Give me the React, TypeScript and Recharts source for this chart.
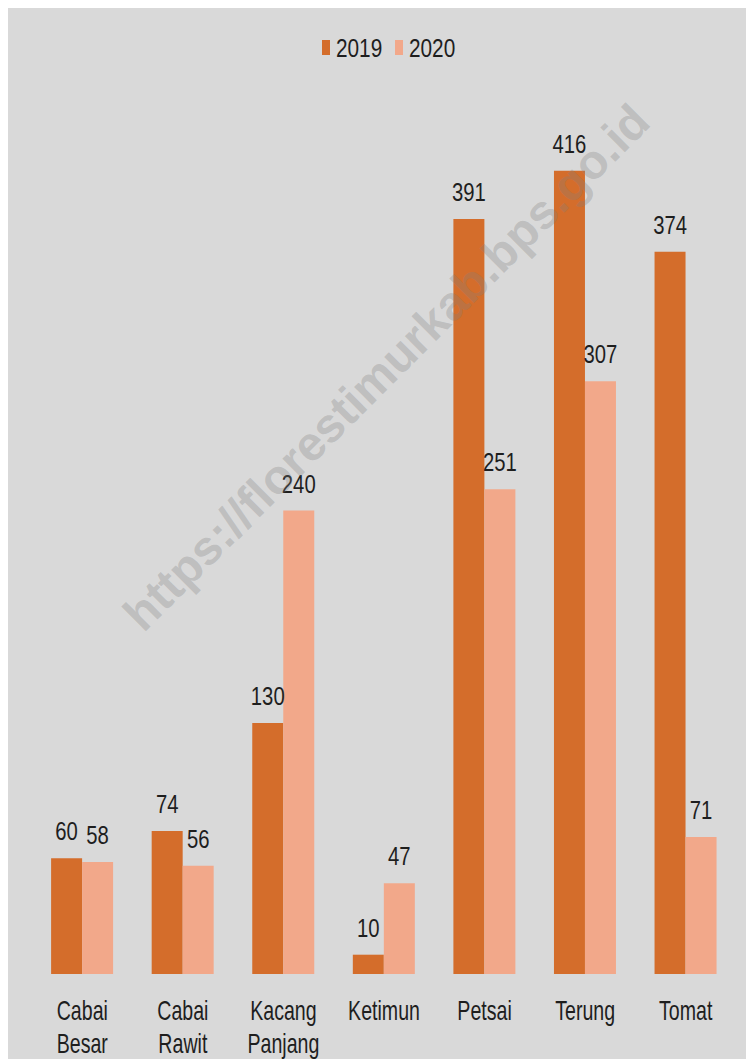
import React from 'react';
import { BarChart, Bar, XAxis, YAxis, Legend, LabelList } from 'recharts';

const categories = ['Cabai Besar', 'Cabai Rawit', 'Kacang Panjang', 'Ketimun', 'Petsai', 'Terung', 'Tomat'];
const values2019 = [60, 74, 130, 10, 391, 416, 374];
const values2020 = [58, 56, 240, 47, 251, 307, 71];
const seriesNames = ['2019', '2020'];
const seriesColors = ['#D46D2B', '#F2A88A'];
const watermark = 'https://florestimurkab.bps.go.id';

const data = categories.map((c, i) => ({ name: c, v2019: values2019[i], v2020: values2020[i] }));

const TEXT = '#1e1e1e';
const FONT = '"Liberation Sans", Arial, sans-serif';
const W = 750;
const H = 1055;

const CategoryTick = (props: any) => {
  const { x, y, payload } = props;
  const lines = String(payload.value).split(' ');
  return (
    <g>
      {lines.map((l: string, i: number) => (
        <text
          key={i}
          transform={`translate(${x},${y + 46 + i * 33}) scale(0.7,1)`}
          textAnchor="middle"
          fontFamily={FONT}
          fontSize={28}
          fill={TEXT}
        >
          {l}
        </text>
      ))}
    </g>
  );
};

const ValueLabel = (props: any) => {
  const { x, y, width, value } = props;
  return (
    <text
      transform={`translate(${x + width / 2},${y - 18}) scale(0.78,1)`}
      textAnchor="middle"
      fontFamily={FONT}
      fontSize={26}
      fill={TEXT}
    >
      {value}
    </text>
  );
};

const LegendContent = () => {
  const starts = [318, 391];
  return (
    <svg width={W} height={30} style={{ display: 'block' }}>
      {seriesNames.map((n, i) => (
        <g key={n}>
          <rect x={starts[i]} y={6} width={8} height={15} fill={seriesColors[i]} />
          <text
            transform={`translate(${starts[i] + 14},23) scale(0.8,1)`}
            fontFamily={FONT}
            fontSize={26}
            fill={TEXT}
          >
            {n}
          </text>
        </g>
      ))}
    </svg>
  );
};

export default function App() {
  return (
    <div
      style={{
        position: 'relative',
        width: W,
        height: H,
        marginTop: -4,
        marginLeft: -4,
        background: '#D9D9D9',
        overflow: 'hidden',
      }}
    >
      <div style={{ position: 'absolute', left: 0, top: 0 }}>
        <BarChart
          width={W}
          height={H}
          data={data}
          margin={{ top: 71, right: 18, left: 28, bottom: 55 }}
          barCategoryGap="19%"
          barGap={0}
        >
          <XAxis
            dataKey="name"
            axisLine={false}
            tickLine={false}
            tickSize={0}
            tickMargin={0}
            height={30}
            interval={0}
            tick={<CategoryTick />}
          />
          <YAxis hide domain={[0, 450]} />
          <Legend
            verticalAlign="top"
            content={<LegendContent />}
            wrapperStyle={{ top: 30, left: 0, width: W }}
          />
          <Bar dataKey="v2019" name={seriesNames[0]} fill={seriesColors[0]} isAnimationActive={false}>
            <LabelList dataKey="v2019" content={<ValueLabel />} />
          </Bar>
          <Bar dataKey="v2020" name={seriesNames[1]} fill={seriesColors[1]} isAnimationActive={false}>
            <LabelList dataKey="v2020" content={<ValueLabel />} />
          </Bar>
        </BarChart>
      </div>
      <svg
        width={W}
        height={H}
        style={{ position: 'absolute', left: 0, top: 0, pointerEvents: 'none' }}
      >
        <text
          x={394}
          y={375}
          textAnchor="middle"
          transform="rotate(-45 394 375)"
          fontFamily={FONT}
          fontWeight="bold"
          fontSize={48}
          fill="rgb(128,128,128)"
          fillOpacity={0.3}
        >
          {watermark}
        </text>
      </svg>
    </div>
  );
}
